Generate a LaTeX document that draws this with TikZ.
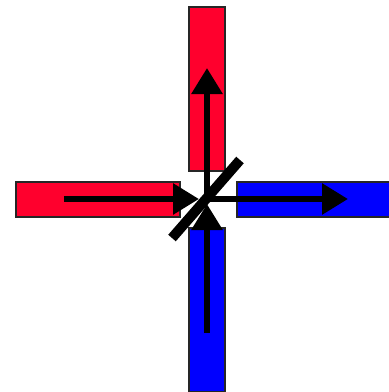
\documentclass[tikz,border=0pt]{standalone}
\usetikzlibrary{arrows.meta}
\definecolor{inred}{RGB}{255,0,45}
\definecolor{outblue}{RGB}{0,0,255}
\begin{document}
\begin{tikzpicture}[
  x=1pt, y=-1pt,
  port/.style={draw=black!85, line width=1.5pt, inner sep=0pt, outer sep=0pt},
  hport/.style={port, minimum width=164pt, minimum height=35pt},
  vport/.style={port, minimum width=36pt, minimum height=164pt},
  flow/.style={-{Triangle[length=26pt,width=30pt]}, line width=6pt}
]
\useasboundingbox (0,0) rectangle (389,392);
\node[hport, fill=inred] (redW) at (98,199.5) {};
\node[vport, fill=inred] (redN) at (207,89) {};
\node[hport, fill=outblue] (blueE) at (319,199.5) {};
\node[vport, fill=outblue] (blueS) at (207,310) {};
\coordinate (mid) at (207,199);
\coordinate (startW) at (64,199);
\coordinate (startS) at (207,333);
\coordinate (tipW) at (199,199);
\coordinate (tipN) at (207,68);
\coordinate (tipE) at (348,199);
\coordinate (tipS) at (207,204);
\draw[flow] (startW) -- (tipW);
\draw[flow] (mid) -- (tipN);
\draw[flow] (mid) -- (tipE);
\draw[flow] (startS) -- (tipS);
\coordinate (barA) at (172,238);
\coordinate (barB) at (240,160);
\draw[line width=10pt] (barA) -- (barB);
\end{tikzpicture}
\end{document}
